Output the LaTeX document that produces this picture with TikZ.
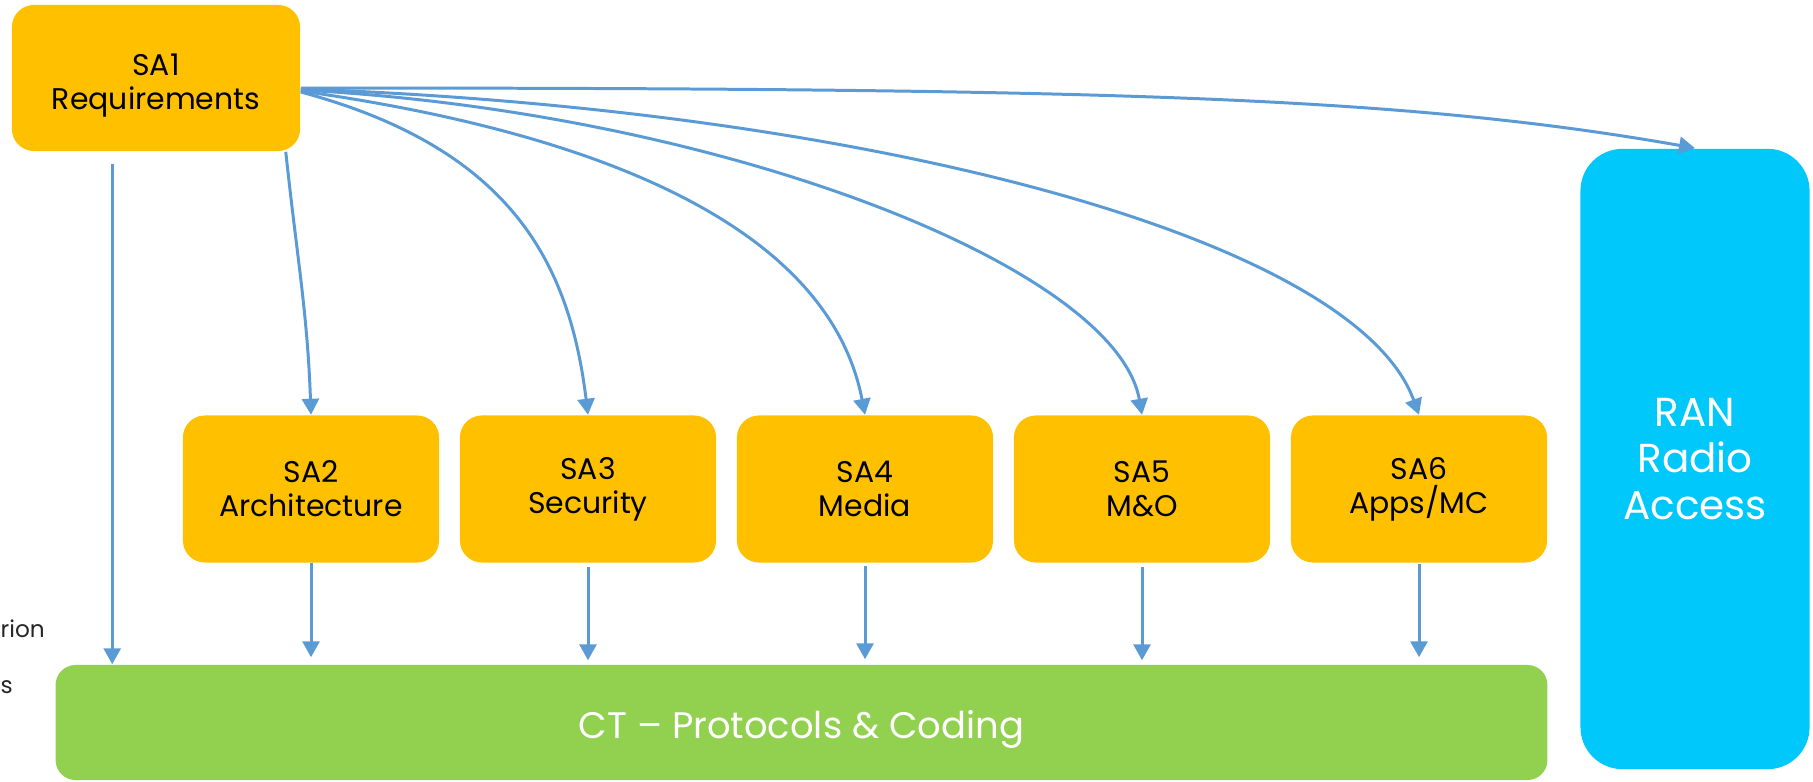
\documentclass[tikz,border=0pt]{standalone}
\usepackage{fontspec}
\setmainfont{Poppins}
\usetikzlibrary{arrows.meta}
\definecolor{saorange}{HTML}{FFC000}
\definecolor{ctgreen}{HTML}{92D050}
\definecolor{rancyan}{HTML}{00C8FA}
\definecolor{linkblue}{HTML}{5B9BD5}
\tikzset{
  sabox/.style={fill=saorange, rounded corners=0.22cm, align=center,
    minimum width=2.56cm, minimum height=1.47cm,
    font=\fontsize{8.5}{9.7}\selectfont},
  sidetext/.style={anchor=base west, inner sep=0pt, text=black!85,
    font=\fontsize{6.6}{8}\selectfont},
  link/.style={draw=linkblue, line width=0.85pt,
    -{Triangle[length=0.16cm, width=0.17cm]}}
}
\begin{document}
\begin{tikzpicture}[x=0.01cm, y=0.01cm]
    \useasboundingbox (0, 0) rectangle (1813, 781);
    \node[sidetext] (side1) at (0, 144) {rion};
    \node[sidetext] (side2) at (0, 88) {s};
    \node[sabox, minimum width=2.88cm, minimum height=1.46cm]
      (sa1) at (156, 703) {\rule{0pt}{10.5pt}SA1\\Requirements};
    \node[sabox] (sa2) at (311, 292) {SA2\\Architecture};
    \node[sabox] (sa3) at (588, 292) {SA3\\Security};
    \node[sabox] (sa4) at (865, 292) {SA4\\Media};
    \node[sabox] (sa5) at (1142, 292) {SA5\\M\&O};
    \node[sabox] (sa6) at (1419, 292) {SA6\\Apps/MC};
    \node[fill=rancyan, rounded corners=0.42cm, minimum width=2.29cm,
      minimum height=6.2cm, text=white, align=center,
      font=\fontsize{11.5}{13.1}\selectfont]
      (ran) at (1695, 322) {RAN\\Radio\\Access};
    \node[fill=ctgreen, rounded corners=0.2cm, minimum width=14.91cm,
      minimum height=1.15cm, text=white,
      font=\fontsize{10.5}{13}\selectfont]
      (ct) at (801.5, 58.5) {\rule{0pt}{12pt}CT – Protocols \& Coding};
    % SA1 fans out to every other group
    \coordinate (reqdown) at ([shift={(101, -12)}]sa1.south west);
    \draw[link] (reqdown) -- (reqdown |- ct.north);
    \draw[link] ([xshift=-0.15cm]sa1.south east) to[out=-84, in=92] (sa2.north);
    \draw[link] ([yshift=-0.14cm]sa1.east)
      to[out=-15, in=97, out distance=2.2cm, in distance=1.5cm] (sa3.north);
    \draw[link] ([yshift=-0.13cm]sa1.east)
      to[out=-8, in=101, out distance=2.8cm, in distance=2cm] (sa4.north);
    \draw[link] ([yshift=-0.12cm]sa1.east)
      to[out=-3, in=100, out distance=4.2cm, in distance=1.5cm] (sa5.north);
    \draw[link] ([yshift=-0.11cm]sa1.east)
      to[out=-2, in=110, out distance=5.6cm, in distance=1.9cm] (sa6.north);
    \draw[link] ([yshift=-0.1cm]sa1.east)
      to[out=0, in=170, out distance=8cm, in distance=3cm] (ran.north);
    % everything ends up in CT
    \draw[link] (sa2.south) -- ([yshift=0.07cm]sa2.south |- ct.north);
    \draw[link] ([yshift=-0.04cm]sa3.south) -- ([yshift=0.04cm]sa3.south |- ct.north);
    \draw[link] ([yshift=-0.03cm]sa4.south) -- ([yshift=0.05cm]sa4.south |- ct.north);
    \draw[link] ([yshift=-0.04cm]sa5.south) -- ([yshift=0.04cm]sa5.south |- ct.north);
    \draw[link] ([yshift=-0.01cm]sa6.south) -- ([yshift=0.07cm]sa6.south |- ct.north);
  \end{tikzpicture}
\end{document}
